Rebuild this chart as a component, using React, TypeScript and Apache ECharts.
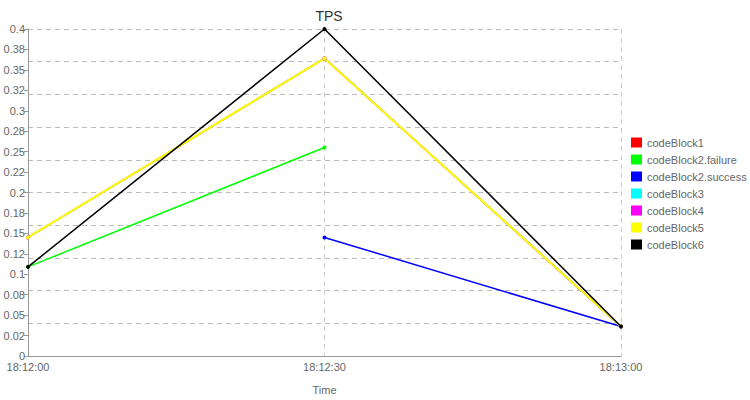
import React, { useEffect, useRef } from "react";
import * as echarts from "echarts";

const categories = ["18:12:00", "18:12:30", "18:13:00"];
const yTickLabels = ["0", "0.02", "0.05", "0.08", "0.1", "0.12", "0.15", "0.18", "0.2", "0.22", "0.25", "0.28", "0.3", "0.32", "0.35", "0.38", "0.4"];

const codeBlock1 = [0.145, 0.364, 0.036];
const codeBlock2Failure = [0.109, 0.255, null];
const codeBlock2Success = [null, 0.145, 0.036];
const codeBlock3 = [0.145, 0.364, 0.036];
const codeBlock4 = [0.145, 0.364, 0.036];
const codeBlock5 = [0.145, 0.364, 0.036];
const codeBlock6 = [0.109, 0.4, 0.036];

const seriesDefs = [
  { name: "codeBlock1", data: codeBlock1, color: "#ff0000" },
  { name: "codeBlock2.failure", data: codeBlock2Failure, color: "#00ff00" },
  { name: "codeBlock2.success", data: codeBlock2Success, color: "#0000ff" },
  { name: "codeBlock3", data: codeBlock3, color: "#00ffff" },
  { name: "codeBlock4", data: codeBlock4, color: "#ff00ff" },
  { name: "codeBlock5", data: codeBlock5, color: "#ffff00" },
  { name: "codeBlock6", data: codeBlock6, color: "#000000" },
];

export default function App() {
  const ref = useRef<HTMLDivElement>(null);
  useEffect(() => {
    if (!ref.current) return;
    const chart = echarts.init(ref.current, null, { renderer: "svg" });
    const font = "Liberation Sans, Arial, sans-serif";
    chart.setOption({
      animation: false,
      title: {
        text: "TPS",
        left: 324,
        textAlign: "center",
        top: 4,
        textStyle: { fontSize: 14, fontWeight: "normal", color: "#333", fontFamily: font },
      },
      legend: {
        orient: "vertical",
        left: 631,
        top: 137,
        padding: 0,
        itemWidth: 11,
        itemHeight: 10,
        itemGap: 6,
        icon: "rect",
        textStyle: { fontSize: 11, color: "#666", fontFamily: font },
        data: seriesDefs.map((s) => ({ name: s.name, itemStyle: { color: s.color } })),
      },
      grid: { left: 28, width: 593, top: 29, height: 333, containLabel: false },
      xAxis: {
        type: "category",
        data: categories,
        boundaryGap: false,
        name: "Time",
        nameLocation: "middle",
        nameGap: 28,
        nameTextStyle: { fontSize: 11, color: "#666", fontFamily: font },
        axisLine: { lineStyle: { color: "#999" } },
        axisTick: { show: false },
        axisLabel: { fontSize: 11, lineHeight: 11, color: "#666", fontFamily: font, margin: 5 },
        splitLine: { show: true, lineStyle: { color: "#ccc", type: [5, 4] } },
      },
      yAxis: [
        {
          type: "value",
          min: 0,
          max: 0.4,
          interval: 0.025,
          axisLine: { show: true, lineStyle: { color: "#999" } },
          axisTick: { show: true, length: 4, lineStyle: { color: "#999" } },
          axisLabel: {
            fontSize: 11,
            lineHeight: 11,
            color: "#666",
            fontFamily: font,
            margin: 3,
            formatter: (v: number) => yTickLabels[Math.round(v / 0.025)] ?? "",
          },
          splitLine: { show: false },
        },
        {
          type: "value",
          min: 0,
          max: 0.4,
          interval: 0.04,
          position: "left",
          axisLine: { show: false },
          axisTick: { show: false },
          axisLabel: { show: false },
          splitLine: { show: true, lineStyle: { color: "#bbb", type: [5, 4] } },
        },
      ],
      series: seriesDefs.map((s) => ({
        name: s.name,
        type: "line",
        data: s.data,
        yAxisIndex: 0,
        connectNulls: false,
        symbol: "circle",
        symbolSize: 4,
        showSymbol: true,
        color: s.color,
        lineStyle: { width: s.name === "codeBlock5" ? 2 : 1.5, color: s.color },
        itemStyle: { color: s.color },
      })),
    });
    return () => chart.dispose();
  }, []);
  return <div ref={ref} style={{ width: 750, height: 400, position: "absolute", left: 0, top: 0 }} />;
}
